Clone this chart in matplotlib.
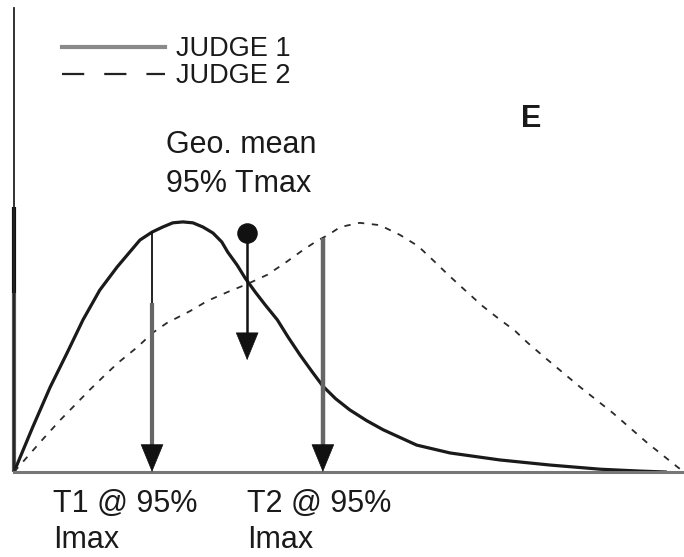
import numpy as np
import matplotlib.pyplot as plt
from matplotlib.lines import Line2D

plt.rcParams['font.family'] = ['Liberation Sans', 'DejaVu Sans']

# judge 1 intensity curve (solid)
t_judge1 = [0.0, 2.8, 5.4, 7.9, 10.3, 12.8, 15.4, 17.8, 18.8, 20.6, 22.2, 23.7,
            25.2, 26.7, 28.2, 29.7, 31.0, 31.9, 33.3, 34.5, 36.0, 37.5, 39.3,
            40.9, 42.7, 44.5, 46.1, 48.0, 50.1, 52.6, 55.1, 60.1, 65.1, 72.5,
            80.0, 87.5, 93.4, 97.2]
i_judge1 = [0.0, 9.7, 18.3, 25.6, 32.8, 39.2, 44.2, 48.3, 50.0, 51.7, 52.8, 53.7,
            53.9, 53.7, 52.8, 51.5, 49.6, 47.4, 44.6, 41.8, 38.8, 36.0, 32.8,
            29.1, 25.2, 21.6, 18.5, 15.8, 13.4, 11.1, 9.1, 5.8, 4.1, 2.6,
            1.5, 0.6, 0.2, 0.0]

# judge 2 intensity curve (dashed)
t_judge2 = [0.0, 4.2, 6.9, 8.8, 11.3, 13.3, 15.5, 18.4, 20.7, 22.8, 26.3, 28.9,
            31.9, 34.8, 37.8, 40.4, 43.1, 45.2, 46.9, 48.7, 51.6, 54.6, 57.6,
            60.3, 62.8, 64.8, 67.3, 69.9, 72.2, 74.8, 76.7, 79.7, 84.5, 89.4,
            94.5, 99.0, 100.0]
i_judge2 = [0.0, 6.9, 11.2, 14.0, 17.7, 20.5, 23.5, 26.9, 30.0, 32.1, 34.7, 36.9,
            38.8, 40.5, 42.5, 45.0, 47.8, 49.8, 51.1, 52.8, 53.7, 53.2, 51.1,
            48.7, 45.3, 42.5, 39.2, 35.8, 33.2, 30.4, 27.8, 24.1, 18.3, 12.7,
            6.3, 1.1, 0.0]

t1_95 = 20.6      # judge 1 time at 95% Imax
t2_95 = 46.1      # judge 2 time at 95% Imax
t_geo = 34.8      # geo. mean time
geo_top = 51.5
geo_tip = 24.1

fig = plt.figure(figsize=(6.84, 5.57), dpi=100)
ax = fig.add_axes([14 / 684, 85 / 557, 670 / 684, 464 / 557])
ax.set_xlim(0, 100)
ax.set_ylim(0, 100)
ax.set_xticks([])
ax.set_yticks([])
for s in ['top', 'right']:
    ax.spines[s].set_visible(False)
ax.spines['left'].set_color('#222222')
ax.spines['left'].set_linewidth(1.3)
ax.spines['bottom'].set_color('#777777')
ax.spines['bottom'].set_linewidth(2.2)
# heavier lower part of the y axis
ax.axvline(0, ymin=0, ymax=0.386, color='#555555', lw=3,
           solid_capstyle='butt', clip_on=False)
ax.axvline(0, ymin=0.386, ymax=0.571, color='#111111', lw=3,
           solid_capstyle='butt', clip_on=False)

ax.plot(t_judge1, i_judge1, color='#1a1a1a', lw=2.3, solid_joinstyle='round')
ax.plot(t_judge2, i_judge2, color='#2a2a2a', lw=1.3, dashes=(3.5, 4.2))

HEAD_LEN = 27 / 4.64   # arrow head length in data units
head_style = '-|>,head_length=19,head_width=7.8'


def down_arrow(x, top, tip, shaft_color, shaft_lw):
    ax.vlines(x, tip + HEAD_LEN * 0.9, top, color=shaft_color, lw=shaft_lw)
    ax.annotate('', xy=(x, tip), xytext=(x, tip + HEAD_LEN),
                arrowprops=dict(arrowstyle=head_style, color='#111111', lw=0.5,
                                shrinkA=0, shrinkB=0, mutation_scale=1))


top1 = np.interp(t1_95, t_judge1, i_judge1)
top2 = np.interp(t2_95, t_judge2, i_judge2)
down_arrow(t1_95, 36.4, 0, '#666666', 3)
ax.vlines(t1_95, 36.4, top1, color='#111111', lw=1.3)
down_arrow(t2_95, top2, 0, '#666666', 3.2)
down_arrow(t_geo, geo_top, geo_tip, '#111111', 1.8)
ax.scatter([t_geo], [geo_top], s=190, color='#111111', zorder=5)

txt = dict(color='#1a1a1a', fontsize=22)
ax.text(22.7, 60.3, 'Geo. mean\n95% Tmax', va='baseline', linespacing=1.42, **txt)
ax.text(75.7, 74.4, 'E', fontweight='bold', va='baseline', color='#1a1a1a', fontsize=22)
ax.text(5.8, -16.4, 'T1 @ 95%\nImax', va='baseline', linespacing=1.27, clip_on=False, **txt)
ax.text(34.8, -16.4, 'T2 @ 95%\nImax', va='baseline', linespacing=1.27, clip_on=False, **txt)

handles = [Line2D([], [], color='#8a8a8a', lw=3),
           Line2D([], [], color='#222222', lw=1.6, dashes=(10, 9))]
ax.legend(handles, ['JUDGE 1', 'JUDGE 2'], loc='upper left',
          bbox_to_anchor=(0.0716, 0.9395), frameon=False, fontsize=19.5,
          handlelength=3.8, handletextpad=0.4, labelspacing=0.05,
          borderpad=0, borderaxespad=0, labelcolor='#1a1a1a')

fig.savefig('out.png', dpi=100)
